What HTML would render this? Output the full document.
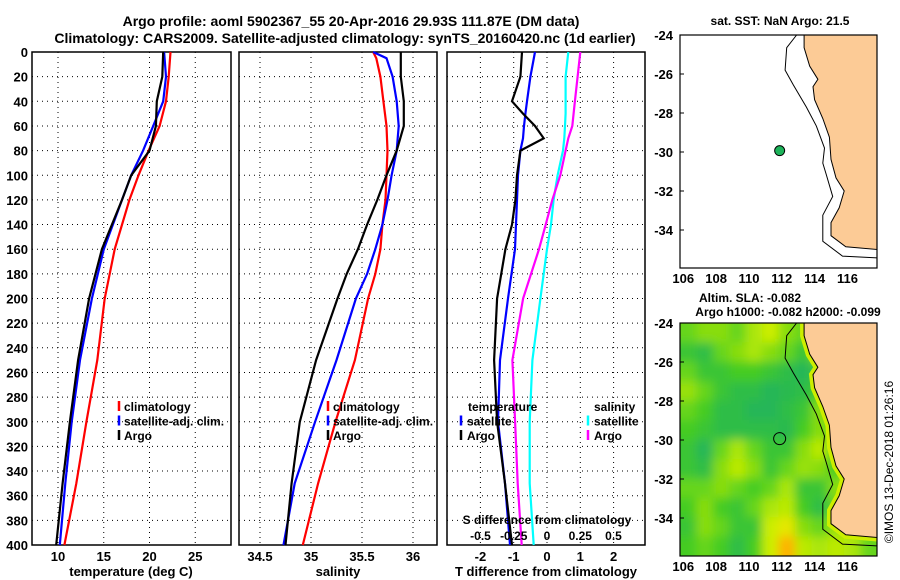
<!DOCTYPE html>
<html><head><meta charset="utf-8"><style>
body{margin:0;background:#fff}
svg{display:block;font-family:"Liberation Sans",Arial,sans-serif;font-weight:bold}
</style></head><body>
<svg id="c" width="900" height="580" viewBox="0 0 900 580">
<defs>
<filter id="blur" x="-5%" y="-5%" width="110%" height="110%"><feGaussianBlur stdDeviation="5"/></filter>
<clipPath id="mapclip"><rect x="680" y="323" width="197" height="233"/></clipPath>
</defs>
<text x="351" y="26" font-size="14" text-anchor="middle">Argo profile: aoml 5902367_55 20-Apr-2016 29.93S 111.87E (DM data)</text>
<text x="345" y="43" font-size="14" text-anchor="middle">Climatology: CARS2009. Satellite-adjusted climatology: synTS_20160420.nc (1d earlier)</text>
<g id="g"></g>
</svg>
<script>
// ---- data ----
const depthT=[0,20,40,60,80,100,120,160,200,250,300,350,400];
const tempClim=[22.3,22.1,21.8,21.1,19.9,18.8,17.8,16.2,15.1,14.3,13.1,12.0,10.7];
const tempSat=[21.6,21.8,21.5,20.4,19.3,18.0,17.0,15.0,13.7,12.4,11.5,10.8,10.2];
const tempArgo=[21.5,21.4,20.8,20.7,20.0,18.0,17.0,14.8,13.4,12.2,11.3,10.5,9.8];
const depthS=[0,5,20,40,60,80,100,120,140,160,180,200,250,300,350,400];
const salClim=[35.61,35.64,35.68,35.71,35.74,35.75,35.74,35.73,35.70,35.68,35.63,35.56,35.43,35.24,35.07,34.92];
const salSat=[35.61,35.74,35.80,35.84,35.86,35.84,35.79,35.75,35.70,35.63,35.55,35.44,35.25,35.04,34.84,34.73];
const salArgo=[35.88,35.88,35.88,35.91,35.91,35.84,35.74,35.65,35.55,35.46,35.35,35.26,35.05,34.89,34.81,34.75];
const depthD=[0,20,40,50,60,70,80,100,120,140,160,200,250,300,350,400];
const tDiffArgo=[-0.75,-0.8,-1.05,-0.72,-0.36,-0.1,-0.8,-0.9,-0.95,-1.05,-1.25,-1.5,-1.59,-1.5,-1.26,-1.05];
const tDiffSat=[-0.36,-0.5,-0.6,-0.65,-0.69,-0.72,-0.8,-0.87,-0.9,-0.93,-0.96,-1.17,-1.41,-1.47,-1.26,-1.11];
const sDiffSat=[0.16,0.14,0.14,0.14,0.135,0.13,0.12,0.08,0.05,0.03,0.0,-0.05,-0.11,-0.13,-0.13,-0.1];
const sDiffArgo=[0.25,0.23,0.21,0.2,0.19,0.16,0.14,0.1,0.04,-0.01,-0.06,-0.18,-0.26,-0.24,-0.22,-0.19];
const depthTicks=[0,20,40,60,80,100,120,140,160,180,200,220,240,260,280,300,320,340,360,380,400];
const tTicks=[10,15,20,25];
const sTicks=[34.5,35,35.5,36];
const dTicks=[-2,-1,0,1,2];
const sdTicks=[-0.5,-0.25,0,0.25,0.5];
const latTicks=[-24,-26,-28,-30,-32,-34];
const lonTicks=[106,108,110,112,114,116];
const argoLon=111.87, argoLat=-29.93;
const slaGrid=[
[.5,.6,.6,.5,.7,.8,.6,.5,.8,.9,.5,.5],
[.3,.2,.5,.6,.7,.6,.5,.3,.6,.8,.5,.5],
[.5,.3,.3,.4,.4,.3,.2,.1,.3,.7,.6,.5],
[.65,.5,.3,.2,.2,.1,.15,.2,.4,.7,.6,.5],
[.5,.4,.2,.2,.1,.1,.2,.3,.6,.5,.5,.5],
[.4,.3,.2,.2,.2,.2,.15,.4,.6,.4,.6,.5],
[.3,.1,.5,.7,.5,.3,.3,.6,.75,.4,.7,.5],
[.3,.2,.6,.75,.6,.3,.5,.65,.6,.4,.75,.5],
[.5,.5,.6,.5,.4,.5,.7,.3,.3,.6,.75,.5],
[.4,.6,.4,.3,.5,.7,.75,.4,.2,.5,.75,.5],
[.3,.6,.5,.3,.3,.8,.9,.6,.5,.65,.75,.5],
[.4,.5,.4,.2,.4,.8,1.2,.75,.7,.75,.7,.5]];
const coastLand=[[113.36,-24],[113.36,-24.65],[113.7,-25.6],[114.2,-26.27],[113.9,-26.65],[114.0,-27.32],[114.5,-28.28],[114.9,-29.24],[115.0,-30.38],[115.3,-31.33],[115.8,-32.0],[115.5,-32.86],[115.0,-33.62],[115.0,-34.29],[115.9,-34.86],[117.8,-35.0]];
const contour=[[112.9,-24],[112.3,-24.65],[112.2,-25.8],[112.7,-26.56],[113.5,-27.7],[114.1,-28.66],[114.6,-29.8],[114.5,-30.57],[114.7,-31.13],[115.1,-32.28],[114.5,-33.24],[114.5,-34.58],[115.7,-35.34],[117.8,-35.43]];

const NS='http://www.w3.org/2000/svg';
const G=document.getElementById('g');
function mk(t,a,p){const e=document.createElementNS(NS,t);for(const k in a)e.setAttribute(k,a[k]);(p||G).appendChild(e);return e;}
const Y0=52,Y1=545;
const yD=d=>Y0+d*(Y1-Y0)/400;

function panel(x0,x1,xs,ticks,fmt,name){
  const g=mk('g',{});
  
  
  depthTicks.forEach(d=>{if(d>0&&d<400){const l=mk('line',{x1:x0,x2:x1,y1:yD(d),y2:yD(d),stroke:'#000','stroke-width':1,'stroke-dasharray':'1,4'},g);
    }});
  ticks.forEach(t=>{const l=mk('line',{x1:xs(t),x2:xs(t),y1:Y0,y2:Y1,stroke:'#000','stroke-width':1,'stroke-dasharray':'1,4'},g);
    
    if(fmt){const tx=mk('text',{x:xs(t),y:561,'font-size':13,'text-anchor':'middle'},g);tx.textContent=fmt(t);
    }});
  const r=mk('rect',{x:x0,y:Y0,width:x1-x0,height:Y1-Y0,fill:'none',stroke:'#000','stroke-width':1.5},g);
  
  return g;
}
function line(depths,vals,xs,col,name,g){
  const pts=depths.map((d,i)=>xs(vals[i]).toFixed(1)+','+yD(d).toFixed(1)).join(' ');
  const p=mk('polyline',{points:pts,fill:'none',stroke:col,'stroke-width':2.2},g);
  
}
function txt(x,y,s,anchor,name,size,g){const t=mk('text',{x:x,y:y,'font-size':size||13,'text-anchor':anchor||'start'},g);t.textContent=s;
  return t;}
function legBar(x,y,col,g){const l=mk('line',{x1:x,x2:x,y1:y-10,y2:y,stroke:col,'stroke-width':2.5},g);
  }

depthTicks.forEach(d=>txt(28,yD(d)+5,String(d),'end','y-tick-label'));

const xT=t=>58+(t-10)*9.15;
const p1=panel(32,231,xT,tTicks,String,'temperature-panel');
line(depthT,tempClim,xT,'#f00','temp-climatology-line',p1);
line(depthT,tempSat,xT,'#00f','temp-satellite-line',p1);
line(depthT,tempArgo,xT,'#000','temp-argo-line',p1);
[['climatology','#f00'],['satellite-adj. clim.','#00f'],['Argo','#000']].forEach((e,i)=>{legBar(119,411+i*14.5,e[1],p1);txt(124,411+i*14.5,e[0],'start','legend-entry',12,p1);});
txt(131,576,'temperature (deg C)','middle','x-axis-title-temperature');

const xS=s=>311+(s-35)*102;
const p2=panel(239,437,xS,sTicks,String,'salinity-panel');
line(depthS,salClim,xS,'#f00','sal-climatology-line',p2);
line(depthS,salSat,xS,'#00f','sal-satellite-line',p2);
line(depthS,salArgo,xS,'#000','sal-argo-line',p2);
[['climatology','#f00'],['satellite-adj. clim.','#00f'],['Argo','#000']].forEach((e,i)=>{legBar(328,411+i*14.5,e[1],p2);txt(333,411+i*14.5,e[0],'start','legend-entry',12,p2);});
txt(338,576,'salinity','middle','x-axis-title-salinity');

const xD=t=>547+t*33.3;
const xSD=s=>547+s*133;
const p3=panel(447,645,xD,dTicks,String,'difference-panel');
line(depthD,sDiffSat,xSD,'#0ff','sdiff-satellite-line',p3);
line(depthD,sDiffArgo,xSD,'#f0f','sdiff-argo-line',p3);
line(depthD,tDiffSat,xD,'#00f','tdiff-satellite-line',p3);
line(depthD,tDiffArgo,xD,'#000','tdiff-argo-line',p3);
txt(468,411,'temperature','start','legend-title-temperature',12,p3);
legBar(461,425.5,'#00f',p3);txt(467,425.5,'satellite','start','legend-entry',12,p3);
legBar(461,440,'#000',p3);txt(467,440,'Argo','start','legend-entry',12,p3);
txt(594,411,'salinity','start','legend-title-salinity',12,p3);
legBar(588,425.5,'#0ff',p3);txt(594,425.5,'satellite','start','legend-entry',12,p3);
legBar(588,440,'#f0f',p3);txt(594,440,'Argo','start','legend-entry',12,p3);
txt(547,524,'S difference from climatology','middle','s-diff-axis-title',12,p3);
sdTicks.forEach(s=>txt(xSD(s),540,String(s),'middle','s-tick-label',12,p3));
txt(546,576,'T difference from climatology','middle','x-axis-title-tdiff');

const LON0=105.8,LON1=117.8,LAT0=-24;
function mapAxes(top,name,withGrid){
  const g=mk('g',{});
  
  const bottom=top+233;
  const mx=lon=>680+(lon-LON0)*(197/(LON1-LON0));
  const my=lat=>top+(LAT0-lat)*19.5;
  const toP=a=>a.map(p=>mx(p[0]).toFixed(1)+','+my(p[1]).toFixed(1)).join(' ');
  if(withGrid){
    const outer=mk('g',{'clip-path':'url(#mapclip)'},g);
    
    const hg=mk('g',{filter:'url(#blur)'},outer);
    const rows=slaGrid.length,cols=slaGrid[0].length;
    const cw=197/cols,ch=233/rows;
    function col(v){const st=[[0,[26,174,106]],[0.4,[68,204,34]],[0.8,[204,238,0]],[1.0,[255,224,0]],[1.3,[255,153,0]]];
      for(let i=1;i<st.length;i++){if(v<=st[i][0]){const a=st[i-1],b=st[i],f=(v-a[0])/(b[0]-a[0]);return 'rgb('+a[1].map((c,k)=>Math.round(c+(b[1][k]-c)*f)).join(',')+')';}}return 'rgb(255,153,0)';}
    slaGrid.forEach((row,r)=>row.forEach((v,c)=>{
      const x=680+c*cw-(c==0?12:0), y=top+r*ch-(r==0?12:0);
      const w=cw+0.5+(c==0?12:0)+(c==cols-1?12:0), h=ch+0.5+(r==0?12:0)+(r==rows-1?12:0);
      const e=mk('rect',{x:x,y:y,width:w,height:h,fill:col(v)},hg);
      }));
    const b=mk('polyline',{points:toP(coastLand),fill:'none',stroke:'#ccee00','stroke-width':8},outer);
    
  }
  const land=mk('polygon',{points:toP(coastLand)+' '+mx(LON1)+','+top,fill:'#fccb96',stroke:'#000','stroke-width':1},g);
  
  const ct=mk('polyline',{points:toP(contour),fill:'none',stroke:'#000','stroke-width':1},g);
  
  const fr=mk('rect',{x:680,y:top,width:197,height:233,fill:'none',stroke:'#000','stroke-width':1.2},g);
  
  latTicks.forEach(l=>{txt(673,my(l)+5,String(l),'end','lat-tick-label',13,g);
    const t=mk('line',{x1:680,x2:684,y1:my(l),y2:my(l),stroke:'#000'},g);});
  lonTicks.forEach(l=>{txt(mx(l),bottom+15,String(l),'middle','lon-tick-label',13,g);});
  return {g,mx,my};
}
const m1=mapAxes(35,'sst-map',false);
const d1=mk('circle',{cx:m1.mx(argoLon),cy:m1.my(argoLat),r:5,fill:'#1db35a',stroke:'#000','stroke-width':1},m1.g);

txt(780,25,'sat. SST: NaN Argo: 21.5','middle','sst-map-title',12);
const m2=mapAxes(323,'sla-map',true);
const d2=mk('circle',{cx:m2.mx(argoLon),cy:m2.my(argoLat),r:6,fill:'none',stroke:'#000','stroke-width':1},m2.g);

txt(750,302,'Altim. SLA: -0.082','middle','sla-map-title',12);
txt(788,316,'Argo h1000: -0.082 h2000: -0.099','middle','sla-map-subtitle',12);
const cp=txt(0,0,'©IMOS 13-Dec-2018 01:26:16','middle','copyright-stamp',12);
cp.setAttribute('font-weight','normal');
cp.setAttribute('transform','translate(893,462) rotate(-90)');
</script>
</body></html>
